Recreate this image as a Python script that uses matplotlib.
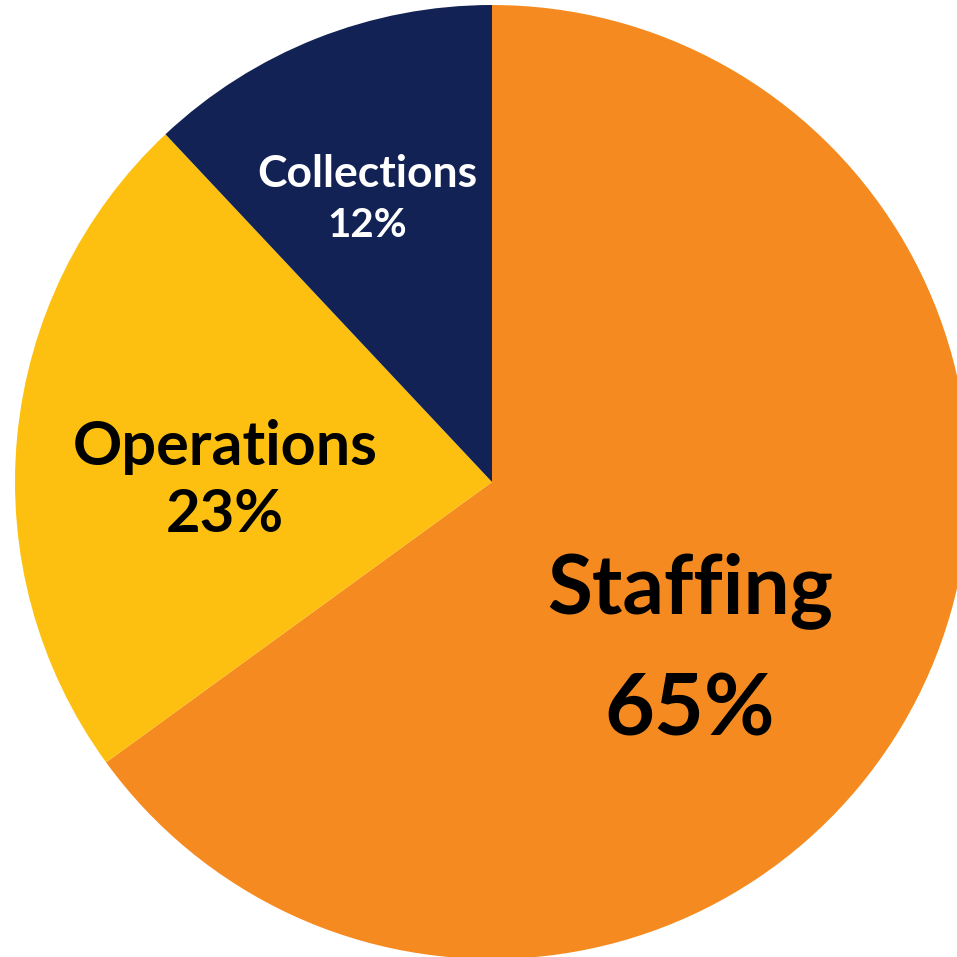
import matplotlib.pyplot as plt

# Budget split
categories = ['Staffing', 'Operations', 'Collections']
shares = [65, 23, 12]
colors = ['#F58B20', '#FDC010', '#132254']

W = H = 957
fig = plt.figure(figsize=(W / 100, H / 100), dpi=100)
ax = fig.add_axes([0, 0, 1, 1])

# pie centre and radius in pixel units (y measured from bottom)
cx, cy, r = 492, H - 482, 477
ax.pie(shares, colors=colors, startangle=90, counterclock=False,
       center=(cx, cy), radius=r, frame=True,
       wedgeprops=dict(linewidth=0))
ax.set_xlim(0, W)
ax.set_ylim(0, H)
ax.set_aspect('equal')
ax.axis('off')

font = 'Lato'
# (x, name baseline, pct baseline, name size, pct size, text colour)
label_style = [
    (690, 613, 735, 59, 62, 'black'),
    (225, 465, 532, 44, 43, 'black'),
    (367, 187, 237, 32, 29, 'white'),
]
for name, pct, (x, yb1, yb2, s1, s2, c) in zip(categories, shares, label_style):
    ax.text(x, H - yb1, name, ha='center', va='baseline', fontsize=s1,
            fontweight='bold', family=font, color=c)
    ax.text(x, H - yb2, f'{pct}%', ha='center', va='baseline', fontsize=s2,
            fontweight='bold', family=font, color=c)

fig.savefig('out.png', dpi=100)
